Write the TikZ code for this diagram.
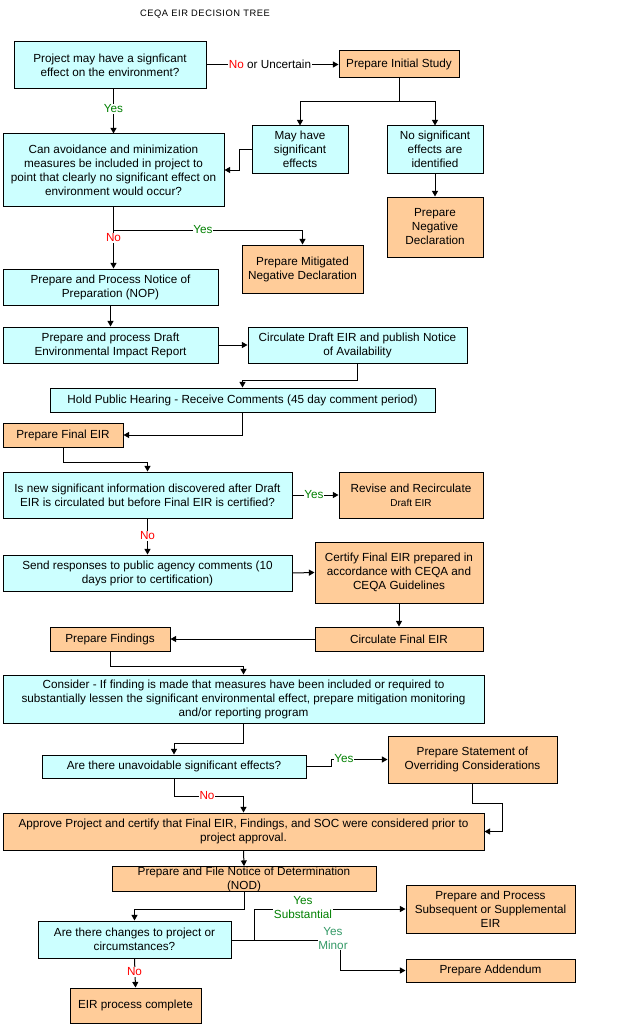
\documentclass[tikz,border=0pt]{standalone}
\usepackage{fontspec}
\setmainfont{Liberation Sans}
\usetikzlibrary{arrows.meta}
\definecolor{cy}{HTML}{CCFFFF}
\definecolor{orng}{HTML}{FFCC99}
\definecolor{grn}{HTML}{008000}
\definecolor{sgrn}{HTML}{339966}
\definecolor{rd}{HTML}{FF0000}
\newcommand{\fs}{\fontsize{8.8pt}{10.5pt}\selectfont}
\newcommand{\bx}[7]{\node[#2, minimum width={#5*0.75pt}, minimum height={#6*0.75pt}] (#1) at (#3,#4) {#7};}
\tikzset{
  cbox/.style={draw, line width=0.75pt, fill=cy, align=center, inner sep=0pt, font=\fs},
  obox/.style={draw, line width=0.75pt, fill=orng, align=center, inner sep=0pt, font=\fs},
  ln/.style={line width=0.75pt},
  arr/.style={line width=0.75pt, -{Triangle[length=4.2pt,width=4.5pt]}},
  lab/.style={fill=white, inner sep=0.6pt, font=\fs, align=center},
  ylab/.style={lab, text=grn},
  nlab/.style={lab, text=rd},
}
\begin{document}
\begin{tikzpicture}[x=0.75pt,y=-0.75pt]
\useasboundingbox (0,0) rectangle (626,1027);
\node[font={\fontsize{7pt}{8pt}\selectfont\addfontfeature{LetterSpace=6}}] (title) at (205,14) {CEQA EIR DECISION TREE};

\bx{b1}{cbox}{110}{65.5}{192}{47}{Project may have a signficant\\effect on the environment?}
\bx{b2}{obox}{399}{64.5}{120}{27}{Prepare Initial Study}
\bx{b3}{cbox}{113.5}{170}{221}{72}{Can avoidance and minimization\\measures be included in project to\\point that clearly no significant effect on\\environment would occur?}
\bx{b4}{cbox}{300}{149.5}{96}{47}{May have\\significant\\effects}
\bx{b5}{cbox}{435}{149.5}{96}{47}{No significant\\effects are\\identified}
\bx{b6}{obox}{435}{227}{96}{60}{Prepare\\Negative\\Declaration}
\bx{b7}{obox}{302.5}{269}{121}{48}{Prepare Mitigated\\Negative Declaration}
\bx{b8}{cbox}{110.5}{287}{215}{36}{Prepare and Process Notice of\\Preparation (NOP)}
\bx{b9}{cbox}{110.5}{345}{215}{36}{Prepare and process Draft\\Environmental Impact Report}
\bx{b10}{cbox}{357.5}{345}{219}{36}{Circulate Draft EIR and publish Notice\\of Availability}
\bx{b11}{cbox}{242.5}{400}{385}{24}{Hold Public Hearing - Receive Comments (45 day comment period)}
\bx{b12}{obox}{63}{435}{120}{24}{Prepare Final EIR}
\bx{b13}{cbox}{147.5}{495}{289}{46}{Is new significant information discovered after Draft\\EIR is circulated but before Final EIR is certified?}
\bx{b14}{obox}{411}{495}{144}{46}{Revise and Recirculate\\{\fontsize{7.5pt}{10.5pt}\selectfont Draft EIR}}
\bx{b15}{cbox}{147.5}{573}{289}{36}{Send responses to public agency comments (10\\days prior to certification)}
\bx{b16}{obox}{399}{572.5}{168}{61}{Certify Final EIR prepared in\\accordance with CEQA and\\CEQA Guidelines}
\bx{b17}{obox}{399}{639}{168}{24}{Circulate Final EIR}
\bx{b18}{obox}{110}{639}{120}{24}{Prepare Findings}
\bx{b19}{cbox}{243.5}{699}{481}{48}{Consider - If finding is made that measures have been included or required to\\substantially lessen the significant environmental effect, prepare mitigation monitoring\\and/or reporting program}
\bx{b20}{cbox}{174}{766.5}{264}{23}{Are there unavoidable significant effects?}
\bx{b21}{obox}{472.5}{759.5}{169}{47}{Prepare Statement of\\Overriding Considerations}
\bx{b22}{obox}{243.5}{831.5}{481}{37}{Approve Project and certify that Final EIR, Findings, and SOC were considered prior to\\project approval.}
\bx{b23}{obox}{244}{879}{264}{24}{Prepare and File Notice of Determination\\(NOD)}
\bx{b24}{obox}{490.5}{909}{169}{48}{Prepare and Process\\Subsequent or Supplemental\\EIR}
\bx{b25}{cbox}{134.5}{939.5}{193}{37}{Are there changes to project or\\circumstances?}
\bx{b26}{obox}{490.5}{970.5}{169}{23}{Prepare Addendum}
\bx{b27}{obox}{135.5}{1005.5}{131}{35}{EIR process complete}

% connectors
\draw[arr] (b1.east |- b2.west) -- (b2.west);
\node[lab] (l1) at (270,64.5) {\textcolor{rd}{No} or Uncertain};
\draw[arr] (b3.north |- b1.south) -- (b3.north);
\node[ylab] (l2) at (113.5,109) {Yes};
\coordinate (c1) at (399,102);
\draw[ln] (b2.south) -- (c1);
\draw[arr] (c1) -| (b4.north);
\draw[arr] (c1) -| (b5.north);
\draw[arr] (b4.west) -- ++(-12,0) |- (b3.east);
\draw[arr] (b5.south) -- (b6.north);
\coordinate (f1) at (113.5,230);
\draw[ln] (b3.south) -- (f1);
\draw[arr] (f1) -| (b7.north);
\node[ylab] (l3) at (203,230) {Yes};
\draw[arr] (f1) -- (f1 |- b8.north);
\node[nlab] (l4) at (113.5,238) {No};
\draw[arr] (b8.south) -- (b9.north);
\draw[arr] (b9.east) -- (b10.west);
\draw[arr] (b10.south) -- ++(0,17) -| (b11.north);
\draw[arr] (b11.south) |- (b12.east);
\draw[arr] (b12.south) -- ++(0,15) -| (b13.north);
\draw[arr] (b13.east) -- (b14.west);
\node[ylab] (l5) at (314,495) {Yes};
\draw[arr] (b13.south) -- (b15.north);
\node[nlab] (l6) at (147.5,536) {No};
\draw[arr] (b15.east) -- (b16.west);
\draw[arr] (b16.south) -- (b17.north);
\draw[arr] (b17.west) -- (b18.east);
\draw[arr] (b18.south) -- ++(0,15) -| (b19.north);
\draw[arr] (b19.south) -- ++(0,20) -| (b20.north);
\draw[arr] (b20.east) -- ++(25,0) |- (b21.west);
\node[ylab] (l7) at (344,758.5) {Yes};
\draw[arr] (b20.south) -- ++(0,18) -| (b22.north);
\node[nlab] (l8) at (207,796) {No};
\draw[arr] (b21.south) -- ++(0,20) -- ++(30,0) |- (b22.east);
\draw[arr] (b22.south) -- (b23.north);
\draw[arr] (b23.south) -- ++(0,18) -| (b25.north);
\coordinate (x1) at (254,940);
\draw[ln] (b25.east |- x1) -- (x1);
\draw[arr] (x1) |- (b24.west);
\draw[arr] (x1) -- (340,940) |- (b26.west);
\node[ylab] (l9) at (303,907.5) {Yes\\Substantial};
\node[lab, text=sgrn] (l10) at (333,938.5) {Yes\\Minor};
\draw[arr] (b25.south) -- (b27.north);
\node[nlab] (l11) at (134.5,972) {No};
\end{tikzpicture}
\end{document}
